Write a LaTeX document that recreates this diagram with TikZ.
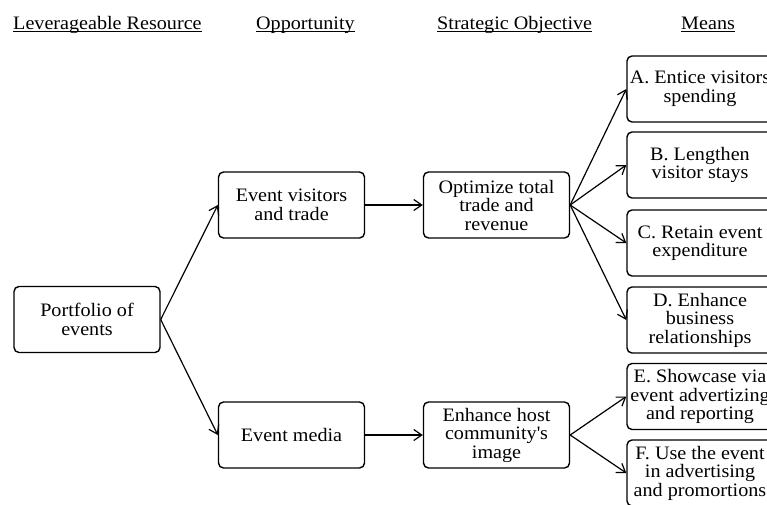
\documentclass[tikz,border=0pt]{standalone}
\usepackage{fontspec}
\setmainfont{Liberation Serif}[FakeStretch=1.06]
\usetikzlibrary{arrows.meta}
\begin{document}
\begin{tikzpicture}[x=1pt,y=-1pt,
  box/.style={draw,line width=1.4pt,rounded corners=5pt,align=center,
    minimum width=146pt,minimum height=66pt,inner xsep=0pt,inner ysep=2pt,
    font=\fontsize{19}{18.5}\selectfont},
  hdr/.style={anchor=base west,inner sep=0pt,font=\fontsize{19}{18.5}\selectfont},
  uline/.style={line width=0.9pt},
  conn/.style={line width=1.2pt,-{Straight Barb[length=8pt,width=11pt,line width=1.2pt]}}]
\useasboundingbox (0,0) rectangle (767,504);
\clip (0,0) rectangle (767,504);
% headers
\node[hdr] (h1) at (13,29) {Leverageable Resource};
\node[hdr] (h2) at (256,29) {Opportunity};
\node[hdr] (h3) at (437,29) {Strategic Objective};
\node[hdr] (h4) at (681,29) {Means\ };
\foreach \h in {h1,h2,h3,h4}
  \draw[uline] ([yshift=-2.6pt]\h.base west) -- ([yshift=-2.6pt]\h.base east);
% boxes
\node[box] (port) at (87,319.5) {Portfolio of\\events};
\node[box] (vis) at (291.5,205) {Event visitors\\and trade};
\node[box] (med) at (291.5,435) {Event media};
\node[box] (opt) at (496.5,205) {Optimize total\\trade and\\revenue};
\node[box] (enh) at (496.5,435) {Enhance host\\community\textquotesingle s\\image};
\node[box] (A) at (700,89) {A. Entice visitors\\spending};
\node[box] (B) at (700,165) {B. Lengthen\\visitor stays};
\node[box] (C) at (700,243) {C. Retain event\\expenditure};
\node[box] (D) at (700,320) {D. Enhance\\business\\relationships};
\node[box] (E) at (700,396.5) {E. Showcase via\\event advertizing\\and reporting};
\node[box] (F) at (700,473) {F. Use the event\\in advertising\\and promortions};
% connectors
\draw[conn] (port.east) -- (vis.west);
\draw[conn] (port.east) -- (med.west);
\draw[conn] (vis.east) -- (opt.west);
\draw[conn] (med.east) -- (enh.west);
\foreach \m in {A,B,C,D}
  \draw[conn] (opt.east) -- (\m.west);
\foreach \m in {E,F}
  \draw[conn] (enh.east) -- (\m.west);
\end{tikzpicture}
\end{document}
